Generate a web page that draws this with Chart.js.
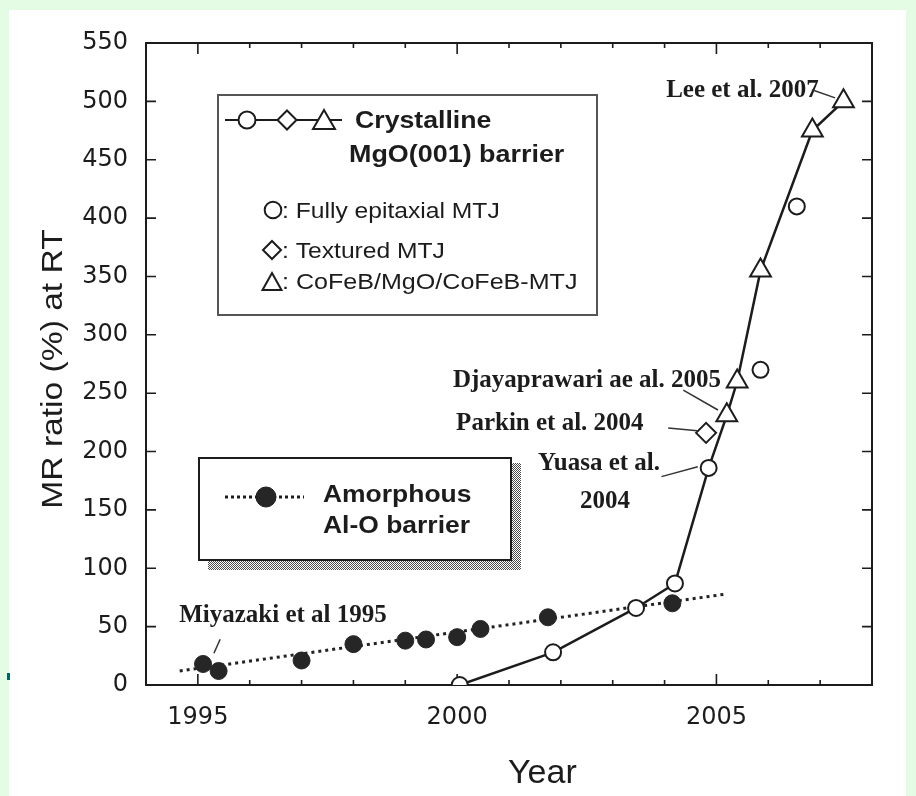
<!DOCTYPE html>
<html lang="en">
<head>
  <meta charset="UTF-8">
  <title>MR ratio at RT vs Year</title>
  <script src="https://cdn.jsdelivr.net/npm/chart.js"></script>
  <style>
    body {
      margin: 0;
      background-color: #e3fce3;
    }
    #mrChart {
      display: block;
    }
  </style>
</head>
<body>
  <canvas id="mrChart" width="916" height="796"></canvas>

  <script>
    // Amorphous Al-O barrier (filled circles)
    const amorphousYears = [1995.1, 1995.4, 1997.0, 1998.0, 1999.0, 1999.4, 2000.0, 2000.45, 2001.75, 2004.15];
    const amorphousMR = [18, 12, 21, 35, 38, 39, 41, 48, 58, 70];
    // dotted trend line through the Al-O points
    const amorphousTrendYears = [1994.65, 2005.2];
    const amorphousTrendMR = [12, 78];

    // Crystalline MgO(001) barrier
    const epitaxialYears = [2000.05, 2001.85, 2003.45, 2004.2, 2004.85, 2005.85, 2006.55];
    const epitaxialMR = [0, 28, 66, 87, 186, 270, 410];
    const texturedYears = [2004.8];
    const texturedMR = [216];
    const cofebYears = [2005.2, 2005.4, 2005.85, 2006.85, 2007.45];
    const cofebMR = [231, 260, 355, 475, 500];
    // solid line joining the crystalline points
    const crystallineYears = [2000.05, 2001.85, 2003.45, 2004.2, 2004.85, 2005.2, 2005.4, 2005.85, 2006.85, 2007.45];
    const crystallineMR = [0, 28, 66, 87, 186, 231, 260, 355, 475, 500];

    const xTickYears = [1995, 2000, 2005];

    function pts(xs, ys) {
      return xs.map((x, i) => ({ x: x, y: ys[i] }));
    }

    // callouts, placed in data units (year, MR %)
    const notes = [
      { text: "Lee et al. 2007", at: [2004.03, 504], lead: [[2006.84, 510], [2007.29, 503]] },
      { text: "Djayaprawari ae al. 2005", at: [1999.92, 255.6], lead: [[2004.36, 252.7], [2005.03, 235.6]] },
      { text: "Parkin et al. 2004", at: [1999.98, 218.5], lead: [[2004.07, 220.2], [2004.63, 217.9]] },
      { text: "Yuasa et al.", at: [2001.56, 184.2], lead: [[2003.94, 178.5], [2004.64, 187]] },
      { text: "2004", at: [2002.37, 151.4] },
      { text: "Miyazaki et al 1995", at: [1994.64, 54.2], lead: [[1995.43, 39.2], [1995.31, 27.2]] }
    ];

    const ink = "#1c1c1c";

    function txt(ctx, s, x, y, font, sx) {
      ctx.save();
      ctx.font = font;
      ctx.fillStyle = ink;
      ctx.textBaseline = "alphabetic";
      ctx.translate(x, y);
      ctx.scale(sx || 1, 1);
      ctx.fillText(s, 0, 0);
      ctx.restore();
    }

    function circle(ctx, x, y, r, fill) {
      ctx.beginPath();
      ctx.arc(x, y, r, 0, Math.PI * 2);
      ctx.fillStyle = fill;
      ctx.fill();
      ctx.stroke();
    }

    function diamond(ctx, x, y, r) {
      ctx.beginPath();
      ctx.moveTo(x, y - r);
      ctx.lineTo(x + r, y);
      ctx.lineTo(x, y + r);
      ctx.lineTo(x - r, y);
      ctx.closePath();
      ctx.fillStyle = "#fff";
      ctx.fill();
      ctx.stroke();
    }

    function triangle(ctx, x, top, w, h) {
      ctx.beginPath();
      ctx.moveTo(x, top);
      ctx.lineTo(x + w / 2, top + h);
      ctx.lineTo(x - w / 2, top + h);
      ctx.closePath();
      ctx.fillStyle = "#fff";
      ctx.fill();
      ctx.stroke();
    }

    // white scanned page on the green slide
    const paperPlugin = {
      id: "paper",
      beforeDraw(chart) {
        const ctx = chart.ctx;
        ctx.save();
        ctx.fillStyle = "#ffffff";
        ctx.fillRect(9, 10, 897, 786);
        ctx.fillStyle = "#00665e";
        ctx.fillRect(7, 673, 3, 7);
        ctx.restore();
      }
    };

    // box frame + inward ticks on all four sides
    const framePlugin = {
      id: "frame",
      beforeDatasetsDraw(chart) {
        const { ctx, chartArea: a, scales: { x, y } } = chart;
        ctx.save();
        ctx.strokeStyle = ink;
        ctx.lineWidth = 2;
        ctx.strokeRect(a.left, a.top, a.right - a.left, a.bottom - a.top);
        ctx.beginPath();
        for (let v = 50; v < 550; v += 50) {
          const p = y.getPixelForValue(v);
          ctx.moveTo(a.left, p); ctx.lineTo(a.left + 10, p);
          ctx.moveTo(a.right, p); ctx.lineTo(a.right - 10, p);
        }
        for (let yr = 1995; yr < 2008; yr++) {
          const p = x.getPixelForValue(yr);
          const len = yr % 5 === 0 ? 11 : 5;
          ctx.moveTo(p, a.bottom); ctx.lineTo(p, a.bottom - len);
          ctx.moveTo(p, a.top); ctx.lineTo(p, a.top + len);
        }
        ctx.lineWidth = 1.6;
        ctx.stroke();
        ctx.restore();
      }
    };

    // legends, axis titles and callouts
    const decorPlugin = {
      id: "decor",
      afterDraw(chart) {
        const { ctx, scales: { x, y } } = chart;
        ctx.save();

        // axis titles
        txt(ctx, "Year", 508, 783, "34px 'Liberation Sans'", 1.0);
        ctx.save();
        ctx.translate(62, 369);
        ctx.rotate(-Math.PI / 2);
        ctx.font = "30px 'Liberation Sans'";
        const tw = ctx.measureText("MR ratio (%) at RT").width * 1.12;
        txt(ctx, "MR ratio (%) at RT", -tw / 2, 0, "30px 'Liberation Sans'", 1.12);
        ctx.restore();

        // crystalline legend box
        ctx.strokeStyle = "#555";
        ctx.lineWidth = 2;
        ctx.strokeRect(218, 95, 379, 220);
        ctx.strokeStyle = ink;
        ctx.beginPath();
        ctx.moveTo(225, 120); ctx.lineTo(342, 120);
        ctx.stroke();
        circle(ctx, 247, 120, 8.5, "#fff");
        diamond(ctx, 287, 120, 9.5);
        triangle(ctx, 324, 110, 22, 19);
        txt(ctx, "Crystalline", 355, 128, "bold 23px 'Liberation Sans'", 1.16);
        txt(ctx, "MgO(001) barrier", 349, 162, "bold 23px 'Liberation Sans'", 1.17);

        circle(ctx, 273, 210, 8.3, "#fff");
        txt(ctx, ": Fully epitaxial MTJ", 282, 218, "22px 'Liberation Sans'", 1.12);
        diamond(ctx, 272, 250, 9);
        txt(ctx, ": Textured MTJ", 282, 258, "22px 'Liberation Sans'", 1.12);
        triangle(ctx, 272, 273, 19, 17);
        txt(ctx, ": CoFeB/MgO/CoFeB-MTJ", 282, 289, "22px 'Liberation Sans'", 1.14);

        // amorphous legend box with halftone shadow
        const tile = document.createElement("canvas");
        tile.width = 2; tile.height = 2;
        const tc = tile.getContext("2d");
        tc.fillStyle = "#ffffff"; tc.fillRect(0, 0, 2, 2);
        tc.fillStyle = "#4a4a4a"; tc.fillRect(0, 0, 1, 1); tc.fillRect(1, 1, 1, 1);
        ctx.fillStyle = ctx.createPattern(tile, "repeat");
        ctx.fillRect(208, 463, 313, 107);
        ctx.fillStyle = "#fff";
        ctx.fillRect(199, 458, 312, 102);
        ctx.strokeStyle = ink;
        ctx.lineWidth = 2;
        ctx.strokeRect(199, 458, 312, 102);
        ctx.save();
        ctx.setLineDash([3, 3]);
        ctx.lineWidth = 3;
        ctx.beginPath();
        ctx.moveTo(225, 497); ctx.lineTo(304, 497);
        ctx.stroke();
        ctx.restore();
        ctx.lineWidth = 1;
        circle(ctx, 266, 497, 10, "#262626");
        txt(ctx, "Amorphous", 323, 502, "bold 23px 'Liberation Sans'", 1.15);
        txt(ctx, "Al-O barrier", 323, 533, "bold 23px 'Liberation Sans'", 1.15);

        // callouts
        ctx.strokeStyle = "#333";
        ctx.lineWidth = 1.5;
        notes.forEach(n => {
          txt(ctx, n.text, x.getPixelForValue(n.at[0]), y.getPixelForValue(n.at[1]),
            "bold 25px 'Liberation Serif'", 1);
          if (n.lead) {
            ctx.beginPath();
            ctx.moveTo(x.getPixelForValue(n.lead[0][0]), y.getPixelForValue(n.lead[0][1]));
            ctx.lineTo(x.getPixelForValue(n.lead[1][0]), y.getPixelForValue(n.lead[1][1]));
            ctx.stroke();
          }
        });

        ctx.restore();
      }
    };

    const tickFont = { family: "'DejaVu Sans'", size: 24 };

    new Chart(document.getElementById("mrChart"), {
      type: "scatter",
      data: {
        datasets: [
          {
            label: "CoFeB/MgO/CoFeB-MTJ",
            data: pts(cofebYears, cofebMR),
            pointStyle: "triangle",
            pointRadius: 12,
            backgroundColor: "#fff",
            borderColor: ink,
            borderWidth: 2
          },
          {
            label: "Textured MTJ",
            data: pts(texturedYears, texturedMR),
            pointStyle: "rectRot",
            pointRadius: 10,
            backgroundColor: "#fff",
            borderColor: ink,
            borderWidth: 2
          },
          {
            label: "Fully epitaxial MTJ",
            data: pts(epitaxialYears, epitaxialMR),
            pointStyle: "circle",
            pointRadius: 8,
            backgroundColor: "#fff",
            borderColor: ink,
            borderWidth: 2
          },
          {
            label: "Amorphous Al-O barrier",
            data: pts(amorphousYears, amorphousMR),
            pointStyle: "circle",
            pointRadius: 8.5,
            backgroundColor: "#262626",
            borderColor: "#262626",
            borderWidth: 1
          },
          {
            label: "Crystalline MgO(001) barrier",
            data: pts(crystallineYears, crystallineMR),
            showLine: true,
            pointRadius: 0,
            borderColor: ink,
            borderWidth: 2.5
          },
          {
            label: "Al-O trend",
            data: pts(amorphousTrendYears, amorphousTrendMR),
            showLine: true,
            pointRadius: 0,
            borderColor: "#222",
            borderWidth: 3,
            borderDash: [3, 4]
          }
        ]
      },
      options: {
        responsive: false,
        animation: false,
        events: [],
        layout: { padding: { top: 43, right: 44, left: 0, bottom: 0 } },
        plugins: {
          legend: { display: false },
          tooltip: { enabled: false }
        },
        scales: {
          x: {
            type: "linear",
            min: 1994,
            max: 2008,
            grid: { display: false, drawTicks: false },
            border: { display: false },
            afterBuildTicks: scale => {
              scale.ticks = xTickYears.map(v => ({ value: v }));
            },
            afterFit: scale => { scale.height = 111; },
            ticks: { font: tickFont, color: ink, padding: 18, callback: v => String(v) }
          },
          y: {
            min: 0,
            max: 550,
            grid: { display: false, drawTicks: false },
            border: { display: false },
            afterFit: scale => { scale.width = 146; },
            ticks: { stepSize: 50, font: tickFont, color: ink, padding: 18 }
          }
        }
      },
      plugins: [paperPlugin, framePlugin, decorPlugin]
    });
  </script>
</body>
</html>
